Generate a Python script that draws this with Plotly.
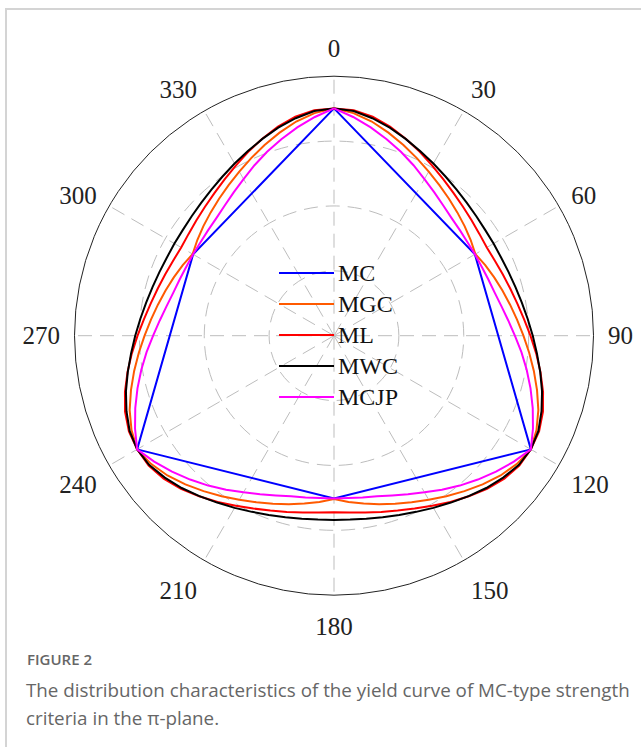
import plotly.graph_objects as go

# Polar angle of each sample (degrees, clockwise from the top)
theta_mc = [0, 60, 120, 180, 240, 300, 360]
theta_curve = list(range(0, 365, 5))

# Normalised deviatoric radius in the pi-plane
r_mc = [0.876, 0.627, 0.876, 0.627, 0.876, 0.627, 0.876]

r_mgc = [
    0.876, 0.861, 0.838, 0.810, 0.782, 0.755, 0.730, 0.708, 0.689, 0.672, 0.657, 0.643,
    0.629, 0.643, 0.657, 0.672, 0.689, 0.708, 0.730, 0.755, 0.782, 0.810, 0.838, 0.861,
    0.876, 0.861, 0.838, 0.810, 0.782, 0.755, 0.730, 0.708, 0.689, 0.672, 0.657, 0.643,
    0.629, 0.643, 0.657, 0.672, 0.689, 0.708, 0.730, 0.755, 0.782, 0.810, 0.838, 0.861,
    0.876, 0.861, 0.838, 0.810, 0.782, 0.755, 0.730, 0.708, 0.689, 0.672, 0.657, 0.643,
    0.629, 0.643, 0.657, 0.672, 0.689, 0.708, 0.730, 0.755, 0.782, 0.810, 0.838, 0.861,
    0.876,
]

r_ml = [
    0.876, 0.872, 0.857, 0.834, 0.808, 0.782, 0.757, 0.735, 0.717, 0.703, 0.692, 0.684,
    0.680, 0.684, 0.692, 0.703, 0.717, 0.735, 0.757, 0.782, 0.808, 0.834, 0.857, 0.872,
    0.876, 0.872, 0.857, 0.834, 0.808, 0.782, 0.757, 0.735, 0.717, 0.703, 0.692, 0.684,
    0.680, 0.684, 0.692, 0.703, 0.717, 0.735, 0.757, 0.782, 0.808, 0.834, 0.857, 0.872,
    0.876, 0.872, 0.857, 0.834, 0.808, 0.782, 0.757, 0.735, 0.717, 0.703, 0.692, 0.684,
    0.680, 0.684, 0.692, 0.703, 0.717, 0.735, 0.757, 0.782, 0.808, 0.834, 0.857, 0.872,
    0.876,
]

r_mwc = [
    0.876, 0.869, 0.851, 0.830, 0.807, 0.785, 0.766, 0.749, 0.735, 0.724, 0.716, 0.711,
    0.710, 0.711, 0.716, 0.724, 0.735, 0.749, 0.766, 0.785, 0.807, 0.830, 0.851, 0.869,
    0.876, 0.869, 0.851, 0.830, 0.807, 0.785, 0.766, 0.749, 0.735, 0.724, 0.716, 0.711,
    0.710, 0.711, 0.716, 0.724, 0.735, 0.749, 0.766, 0.785, 0.807, 0.830, 0.851, 0.869,
    0.876, 0.869, 0.851, 0.830, 0.807, 0.785, 0.766, 0.749, 0.735, 0.724, 0.716, 0.711,
    0.710, 0.711, 0.716, 0.724, 0.735, 0.749, 0.766, 0.785, 0.807, 0.830, 0.851, 0.869,
    0.876,
]

r_mcjp = [
    0.876, 0.846, 0.815, 0.784, 0.754, 0.725, 0.697, 0.674, 0.655, 0.641, 0.633, 0.628,
    0.627, 0.628, 0.633, 0.641, 0.655, 0.674, 0.697, 0.725, 0.754, 0.784, 0.815, 0.846,
    0.876, 0.846, 0.815, 0.784, 0.754, 0.725, 0.697, 0.674, 0.655, 0.641, 0.633, 0.628,
    0.627, 0.628, 0.633, 0.641, 0.655, 0.674, 0.697, 0.725, 0.754, 0.784, 0.815, 0.846,
    0.876, 0.846, 0.815, 0.784, 0.754, 0.725, 0.697, 0.674, 0.655, 0.641, 0.633, 0.628,
    0.627, 0.628, 0.633, 0.641, 0.655, 0.674, 0.697, 0.725, 0.754, 0.784, 0.815, 0.846,
    0.876,
]

angle_ticks = [0, 30, 60, 90, 120, 150, 180, 210, 240, 270, 300, 330]
angle_labels = [str(a) for a in angle_ticks]

series_names = ["MC", "MGC", "ML", "MWC", "MCJP"]
series_colors = ["#0000ff", "#ff5a00", "#ff0000", "#000000", "#ff00ff"]
series_theta = [theta_mc, theta_curve, theta_curve, theta_curve, theta_curve]
series_r = [r_mc, r_mgc, r_ml, r_mwc, r_mcjp]

W, H = 641, 747
SERIF = "Liberation Serif, Times New Roman, serif"
SANS = "Open Sans, Noto Sans, sans-serif"

fig = go.Figure()
for name, color, th, rr in zip(series_names, series_colors, series_theta, series_r):
    fig.add_trace(go.Scatterpolar(
        r=rr, theta=th, mode="lines", name=name,
        line=dict(color=color, width=2), showlegend=False,
    ))

cx, cy, R = 334.0, 335.7, 259.5
fig.update_layout(
    width=W, height=H,
    margin=dict(l=0, r=0, t=0, b=0),
    paper_bgcolor="white",
    showlegend=False,
    polar=dict(
        domain=dict(x=[(cx - R) / W, (cx + R) / W], y=[1 - (cy + R) / H, 1 - (cy - R) / H]),
        bgcolor="white",
        angularaxis=dict(
            rotation=90, direction="clockwise",
            tickmode="array", tickvals=angle_ticks, ticktext=angle_labels,
            ticks="outside", ticklen=9, tickcolor="rgba(0,0,0,0)",
            tickfont=dict(family=SERIF, size=25, color="#222222"),
            showline=True, linecolor="#222222", linewidth=1,
            showgrid=True, gridcolor="#bdbdbd", gridwidth=1, griddash="14px,8px",
        ),
        radialaxis=dict(
            range=[0, 1], tickvals=[0.25, 0.5, 0.75], showticklabels=False,
            ticks="", showline=False,
            showgrid=True, gridcolor="#bdbdbd", gridwidth=1, griddash="14px,8px",
        ),
    ),
)

# Legend drawn in the middle of the plot
leg_x0, leg_x1 = 279, 334
leg_y0, leg_dy = 273, 31
for i, (name, color) in enumerate(zip(series_names, series_colors)):
    y = leg_y0 + i * leg_dy
    fig.add_shape(type="line", xref="paper", yref="paper",
                  x0=leg_x0 / W, x1=leg_x1 / W, y0=1 - y / H, y1=1 - y / H,
                  line=dict(color=color, width=2))
    fig.add_annotation(xref="paper", yref="paper", x=(leg_x1 + 2) / W, y=1 - y / H,
                       text=name, showarrow=False, xanchor="left", yanchor="middle",
                       font=dict(family=SERIF, size=24, color="#111111"))

# Panel frame
fig.add_shape(type="rect", xref="paper", yref="paper",
              x0=6 / W, x1=1.05, y0=-0.05, y1=1 - 9 / H,
              line=dict(color="#d4d4d4", width=2), fillcolor="rgba(0,0,0,0)", layer="below")

# Caption
fig.add_annotation(xref="paper", yref="paper", x=25 / W, y=1 - 659 / H,
                   text="FIGURE 2", showarrow=False, xanchor="left", yanchor="middle",
                   font=dict(family=SANS, size=15, color="#666666", weight=600))
caption_lines = [
    "The distribution characteristics of the yield curve of MC-type strength",
    "criteria in the \u03c0-plane.",
]
for i, line in enumerate(caption_lines):
    fig.add_annotation(xref="paper", yref="paper", x=24 / W, y=1 - (690 + 28 * i) / H,
                       text=line, showarrow=False, xanchor="left", yanchor="middle",
                       font=dict(family=SANS, size=18.8, color="#666666"))

fig.write_html("out.html")
